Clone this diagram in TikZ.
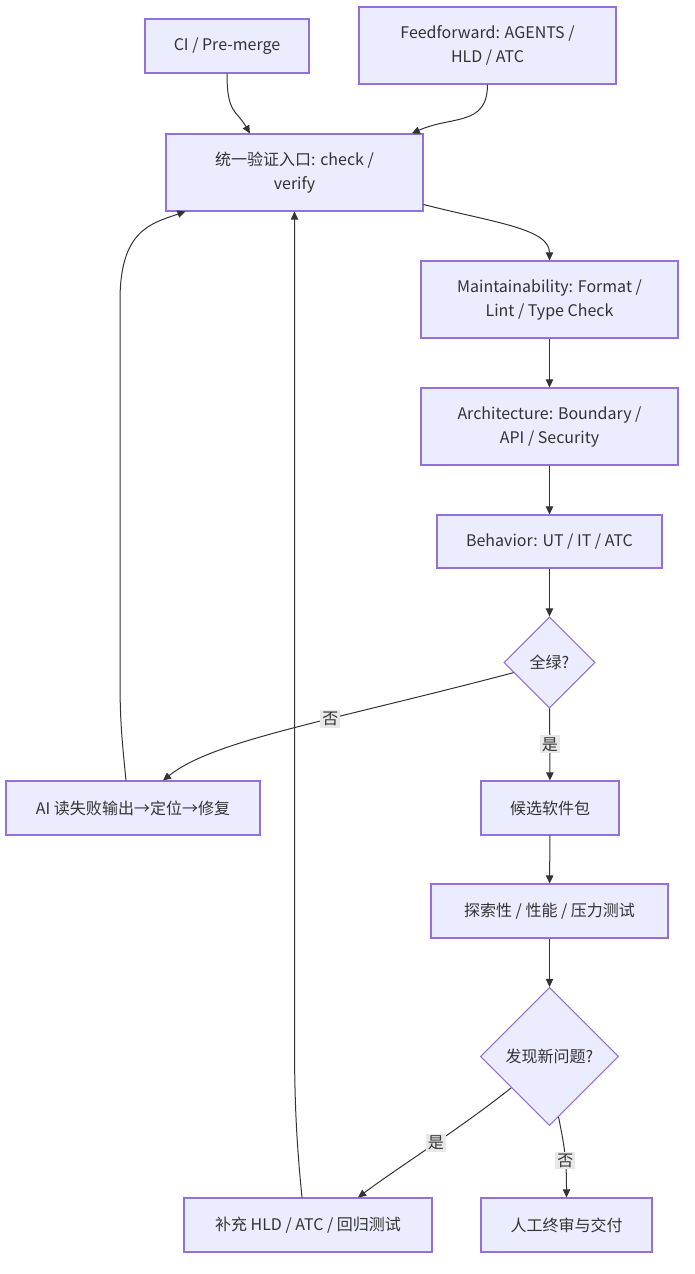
\documentclass[tikz,border=0pt]{standalone}
\usepackage{fontspec}
\setmainfont{Noto Sans CJK SC}
\usepackage{xcolor}
\usepackage{tikz}
\usetikzlibrary{arrows.meta,calc,positioning,shapes.geometric}
\definecolor{nodefill}{HTML}{ECECFF}
\definecolor{nodeline}{HTML}{9370DB}
\definecolor{inktext}{HTML}{333333}
\definecolor{labelgray}{HTML}{E8E8E8}
\tikzset{
  flowbox/.style={draw=nodeline, fill=nodefill, text=inktext, line width=0.8pt, align=center, inner sep=2pt, font=\fontsize{12pt}{18pt}\selectfont},
  smallbox/.style={flowbox, minimum height=40.5pt},
  widebox/.style={flowbox, minimum width=192.75pt, minimum height=57.75pt},
  decision/.style={flowbox, diamond, aspect=1, inner sep=0pt},
  edge/.style={draw=inktext, line width=0.75pt, -{Triangle[length=6pt,width=5.5pt]}},
  edgelabel/.style={fill=labelgray, text=inktext, inner sep=1.5pt, font=\fontsize{12pt}{14pt}\selectfont}
}
\begin{document}
\begin{tikzpicture}[x=0.75pt, y=-0.75pt]
  \useasboundingbox (0,0) rectangle (694,1274);
  \node[smallbox, minimum width=123pt] (ci) at (227,46) {CI / Pre-merge};
  \node[widebox] (feed) at (487.5,45.5) {Feedforward: AGENTS /\\HLD / ATC};
  \node[widebox] (entry) at (294.5,172.5) {统一验证入口: check /\\verify};
  \node[widebox] (maint) at (549.5,299.5) {Maintainability: Format /\\Lint / Type Check};
  \node[widebox] (arch) at (549.5,426.5) {Architecture: Boundary /\\API / Security};
  \node[smallbox, minimum width=168.75pt, minimum height=39.75pt] (behav) at (549.5,541.5) {Behavior: UT / IT / ATC};
  \node[decision, minimum size=68.25pt] (green) at (549.5,662.5) {全绿?};
  \node[smallbox, minimum width=190.5pt] (fixai) at (133,808) {AI 读失败输出→定位→修复};
  \node[smallbox, minimum width=103.5pt] (cand) at (550,808) {候选软件包};
  \node[smallbox, minimum width=177.75pt] (explore) at (549.5,911) {探索性 / 性能 / 压力测试};
  \node[decision, minimum size=103.5pt] (newq) at (549.5,1056.5) {发现新问题?};
  \node[smallbox, minimum width=186pt] (suppl) at (308,1225) {补充 HLD / ATC / 回归测试};
  \node[smallbox, minimum width=128.25pt] (deliver) at (566.5,1225) {人工终审与交付};
  \draw[edge] (ci.south) .. controls +(0,40) and +(-14,-24) .. ([xshift=-33.4pt]entry.north);
  \draw[edge] (feed.south) .. controls +(0,42) and +(40,-18) .. ([xshift=88pt]entry.north);
  \draw[edge] ([yshift=-24pt]entry.east) .. controls +(70,18) and +(0,-32) .. (maint.north);
  \draw[edge] (maint) -- (arch);
  \draw[edge] (arch) -- (behav);
  \draw[edge] (behav) -- (green);
  \draw[edge] ($(green.west)!0.22!(green.south)$) .. controls +(-190,50) and +(50,-40) .. node[edgelabel, pos=0.38] {否} ([xshift=22.5pt]fixai.north);
  \draw[edge] (green) -- node[edgelabel] {是} (cand);
  \draw[edge] (cand) -- (explore);
  \draw[edge] (explore) -- (newq);
  \draw[edge] ($(newq.west)!0.45!(newq.south)$) .. controls +(-50,40) and +(40,-30) .. node[edgelabel, pos=0.47] {是} ([xshift=37.5pt]suppl.north);
  \draw[edge] ($(newq.south)!0.13!(newq.east)$) .. controls +(6,30) and +(0,-40) .. node[edgelabel, pos=0.6] {否} (deliver.north);
  \draw[edge] ([xshift=-5.25pt]fixai.north) .. controls +(-4,-40) and +(0,40) .. ++(-6,-100) -- ++(0,-380) .. controls +(0,-70) and +(-35,12) .. ([xshift=15pt]entry.south west);
  \draw[edge] ([xshift=-4.5pt]suppl.north) .. controls +(-6,-60) and +(0,60) .. ++(-7.5,-160) -- (entry.south);
\end{tikzpicture}
\end{document}
